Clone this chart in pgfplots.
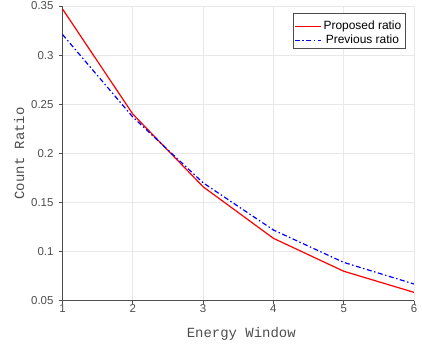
\documentclass[border=0pt]{standalone}
\usepackage{pgfplots}
\pgfplotsset{compat=1.18}
\usepackage{fontspec}
\setmainfont{Liberation Sans}
\newfontfamily\courier{Liberation Mono}
\definecolor{tickgray}{RGB}{77,77,77}
\definecolor{gridgray}{RGB}{232,232,232}
\begin{document}
\begin{tikzpicture}
\useasboundingbox (-62.5bp,-46.3bp) rectangle (359.5bp,300.7bp);
\begin{axis}[
  scale only axis,
  width=351.5bp, height=294.7bp,
  xmin=1, xmax=6, ymin=0.05, ymax=0.35,
  xtick={1,2,3,4,5,6},
  ytick={0.05,0.1,0.15,0.2,0.25,0.3,0.35},
  yticklabels={0.05,0.1,0.15,0.2,0.25,0.3,0.35},
  /pgf/number format/assume math mode=true,
  grid=major,
  grid style={color=gridgray, line width=0.6bp},
  axis x line*=bottom, axis y line*=left,
  tick align=outside,
  major tick length=3.5bp,
  axis line style={color=tickgray, line width=0.7bp},
  every tick/.style={color=tickgray, line width=0.7bp},
  ticklabel style={font=\fontsize{11.5}{13}\selectfont, text=tickgray},
  xticklabel style={yshift=3bp},
  yticklabel style={xshift=-2bp},
  label style={font=\fontsize{14}{16}\selectfont\courier, text=tickgray},
  xlabel={Energy Window},
  ylabel={Count Ratio},
  xlabel style={yshift=-8bp, xshift=3bp},
  ylabel style={yshift=0bp},
  legend style={at={(1,1)}, anchor=north east, xshift=-9bp, yshift=-7bp,
    draw=tickgray, inner xsep=1.5bp, inner ysep=0.5bp, row sep=0bp},
  legend image code/.code={\draw (0bp,0bp) -- (26bp,0bp);},
]
\addlegendimage{empty legend}
\addlegendentry{}
\addplot[red, line width=1.2bp] coordinates {
  (1,0.347) (2,0.240) (3,0.166) (4,0.1135) (5,0.080) (6,0.0585)
};
\addlegendentry{\fontsize{12}{14}\selectfont Proposed ratio}
\addplot[blue, line width=1.2bp, dash pattern=on 5bp off 2.5bp on 1.5bp off 2.5bp] coordinates {
  (1,0.321) (2,0.237) (3,0.170) (4,0.122) (5,0.089) (6,0.067)
};
\addlegendentry{\fontsize{12}{14}\selectfont Previous ratio}
\end{axis}
\end{tikzpicture}
\end{document}
